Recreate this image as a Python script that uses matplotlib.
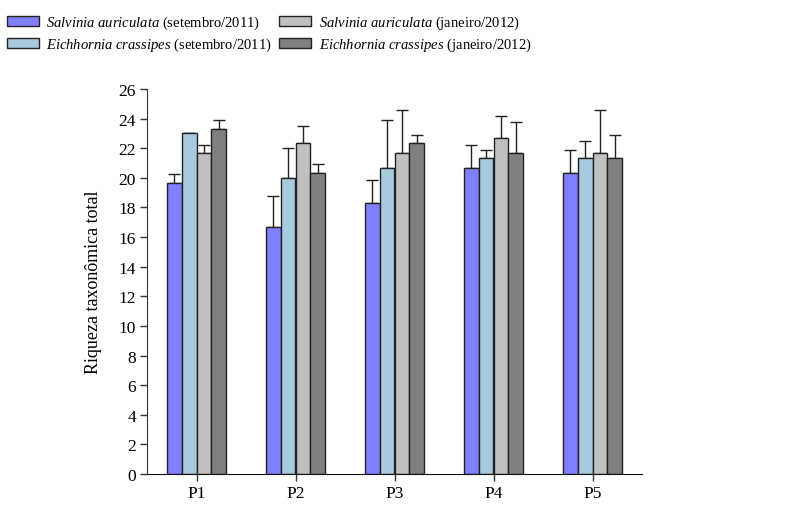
import numpy as np
import matplotlib
matplotlib.use("Agg")
import matplotlib.pyplot as plt
from matplotlib.patches import Patch

plt.rcParams['font.family'] = ['Liberation Serif', 'DejaVu Serif']
plt.rcParams['mathtext.fontset'] = 'custom'
plt.rcParams['mathtext.rm'] = 'Liberation Serif'
plt.rcParams['mathtext.it'] = 'Liberation Serif:italic'

# dados
pontos = ["P1", "P2", "P3", "P4", "P5"]
salvinia_set = [19.67, 16.67, 18.33, 20.67, 20.33]
salvinia_set_err = [0.58, 2.08, 1.53, 1.53, 1.53]
eichhornia_set = [23.0, 20.0, 20.67, 21.33, 21.33]
eichhornia_set_err = [0.0, 2.0, 3.21, 0.58, 1.15]
salvinia_jan = [21.67, 22.33, 21.67, 22.67, 21.67]
salvinia_jan_err = [0.58, 1.15, 2.89, 1.53, 2.89]
eichhornia_jan = [23.33, 20.33, 22.33, 21.67, 21.33]
eichhornia_jan_err = [0.58, 0.58, 0.58, 2.08, 1.53]

series = [
    (salvinia_set, salvinia_set_err, "#8080ff", r"$\mathit{Salvinia\ auriculata}$ (setembro/2011)"),
    (eichhornia_set, eichhornia_set_err, "#a8cadf", r"$\mathit{Eichhornia\ crassipes}$ (setembro/2011)"),
    (salvinia_jan, salvinia_jan_err, "#c0c0c0", r"$\mathit{Salvinia\ auriculata}$ (janeiro/2012)"),
    (eichhornia_jan, eichhornia_jan_err, "#808080", r"$\mathit{Eichhornia\ crassipes}$ (janeiro/2012)"),
]

fig = plt.figure(figsize=(7.95, 5.06), dpi=100)
ax = fig.add_axes([147 / 795, 1 - 475 / 506, 495 / 795, 385 / 506])

x = np.arange(len(pontos))
w = 0.15
handles = []
for i, (vals, errs, cor, rotulo) in enumerate(series):
    pos = x + (i - 1.5) * w
    ax.bar(pos, vals, width=w, color=cor, edgecolor="#222222", linewidth=1.0, zorder=2)
    ax.errorbar(pos, vals, yerr=[np.zeros(len(errs)), errs], fmt="none",
                ecolor="#222222", elinewidth=1.0, capsize=4.3, capthick=1.0, zorder=1)
    handles.append(Patch(facecolor=cor, edgecolor="#222222", linewidth=1.0, label=rotulo))

ax.set_xlim(-0.5, 4.5)
ax.set_ylim(0, 26)
ax.set_yticks(np.arange(0, 27, 2))
ax.set_xticks(x)
ax.set_xticklabels(pontos)
ax.tick_params(axis="both", labelsize=12.5, length=5, width=1, color="#333333")
ax.tick_params(axis="x", pad=3)
ax.tick_params(axis="y", pad=3)
ax.spines["top"].set_visible(False)
ax.spines["right"].set_visible(False)
ax.spines["left"].set_color("#333333")
ax.spines["bottom"].set_color("#111111")
ax.set_ylabel("Riqueza taxonômica total", fontsize=13, labelpad=12)

# legenda em duas colunas
fig.legend(handles=handles, loc="upper left", bbox_to_anchor=(7 / 795, 1 - 15 / 506),
           ncol=2, frameon=False, fontsize=10.5, borderpad=0, borderaxespad=0,
           handlelength=2.2, handleheight=0.7, handletextpad=0.5,
           columnspacing=0.5, labelspacing=0.3)

plt.savefig("out.png", dpi=100)
